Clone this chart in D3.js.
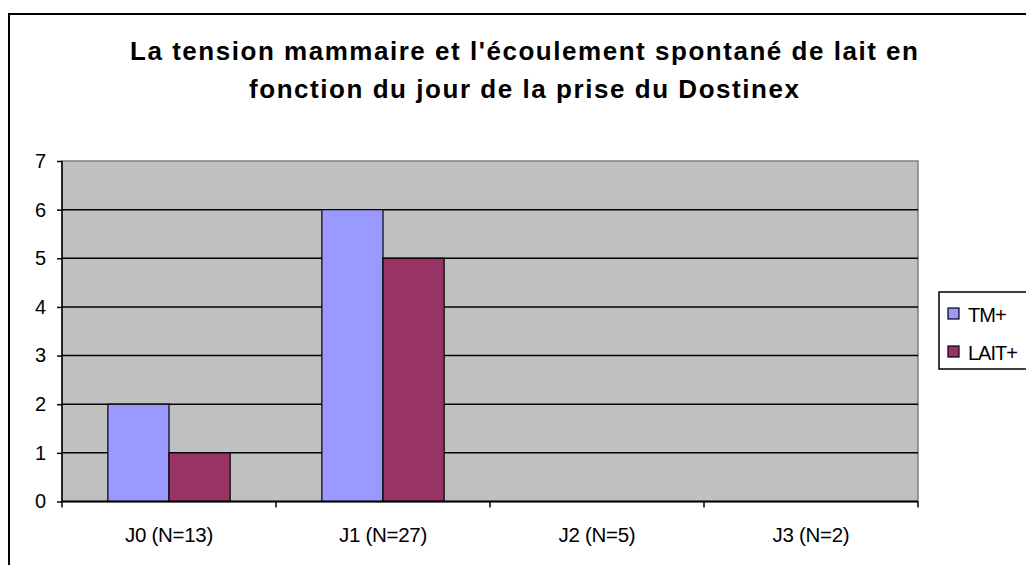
<!DOCTYPE html>
<html>
<head>
<meta charset="utf-8">
<script src="https://cdn.jsdelivr.net/npm/d3@7"></script>
<style>
  body { margin: 0; background: #fff; }
  svg { display: block; font-family: "Liberation Sans", Arial, sans-serif; }
</style>
</head>
<body>
<svg width="1026" height="565"></svg>
<script>
const categories = ["J0 (N=13)", "J1 (N=27)", "J2 (N=5)", "J3 (N=2)"];
const seriesNames = ["TM+", "LAIT+"];
const tmValues = [2, 6, 0, 0];
const laitValues = [1, 5, 0, 0];
const yTicks = [0, 1, 2, 3, 4, 5, 6, 7];
const titleLines = [
    "La tension mammaire et l'écoulement spontané de lait en",
    "fonction du jour de la prise du Dostinex"
];
const titleWidths = [788, 550];
const colors = ["#9999FF", "#993366"];

const svg = d3.select("svg");

// chart frame
svg.append("rect")
    .attr("x", 9).attr("y", 14)
    .attr("width", 1040).attr("height", 600)
    .attr("fill", "#fff")
    .attr("stroke", "#000")
    .attr("stroke-width", 2);

const plot = { left: 62, right: 918, top: 161, bottom: 501.5 };

const x = d3.scaleBand()
    .domain(categories)
    .range([plot.left, plot.right]);

const y = d3.scaleLinear()
    .domain([0, 7])
    .range([plot.bottom, plot.top]);

// bar width following the 150% gap convention
const barW = x.bandwidth() / 3.5;
const xs = d3.scaleBand()
    .domain(seriesNames)
    .range([x.bandwidth() / 2 - barW, x.bandwidth() / 2 + barW]);

svg.append("rect")
    .attr("x", plot.left).attr("y", plot.top)
    .attr("width", plot.right - plot.left)
    .attr("height", plot.bottom - plot.top)
    .attr("fill", "#C0C0C0")
    .attr("stroke", "#808080")
    .attr("stroke-width", 1.5);

// gridlines
svg.append("g")
    .selectAll("line")
    .data(yTicks.filter(d => d > 0 && d < 7))
    .enter().append("line")
    .attr("x1", plot.left).attr("x2", plot.right)
    .attr("y1", d => y(d)).attr("y2", d => y(d))
    .attr("stroke", "#000")
    .attr("stroke-width", 1.5);

// bars
const rows = categories.map((c, i) => ({ cat: c, values: [tmValues[i], laitValues[i]] }));

const group = svg.append("g")
    .selectAll("g")
    .data(rows)
    .enter().append("g")
    .attr("transform", d => `translate(${x(d.cat)},0)`);

group.selectAll("rect")
    .data(d => d.values.map((v, j) => ({ name: seriesNames[j], value: v, color: colors[j] })))
    .enter().append("rect")
    .filter(d => d.value > 0)
    .attr("x", d => xs(d.name))
    .attr("y", d => y(d.value))
    .attr("width", xs.bandwidth())
    .attr("height", d => y(0) - y(d.value))
    .attr("fill", d => d.color)
    .attr("stroke", "#000")
    .attr("stroke-width", 1.2);

// y axis
const yAxis = svg.append("g")
    .attr("transform", `translate(${plot.left},0)`)
    .call(d3.axisLeft(y).tickValues(yTicks).tickSize(5).tickPadding(11).tickFormat(d3.format("d")));
yAxis.select(".domain").attr("stroke", "#000").attr("stroke-width", 1.5).attr("d", `M0,${plot.top}V${plot.bottom}`);
yAxis.selectAll(".tick line").attr("stroke", "#000").attr("stroke-width", 1.5);
yAxis.selectAll(".tick text")
    .attr("font-size", 20)
    .attr("fill", "#000")
    .attr("font-family", "Liberation Sans, Arial, sans-serif");

// x axis
const xAxis = svg.append("g")
    .attr("transform", `translate(0,${plot.bottom})`)
    .call(d3.axisBottom(x).tickSize(0).tickPadding(25.5));
xAxis.select(".domain").attr("stroke", "#000").attr("stroke-width", 2).attr("d", `M${plot.left},0H${plot.right}`);
xAxis.selectAll(".tick text")
    .attr("font-size", 20.5)
    .attr("letter-spacing", -0.3)
    .attr("fill", "#000")
    .attr("font-family", "Liberation Sans, Arial, sans-serif");

// category separators
xAxis.append("g")
    .selectAll("line")
    .data(categories.concat(["end"]))
    .enter().append("line")
    .attr("x1", (d, i) => i < categories.length ? x(d) : plot.right)
    .attr("x2", (d, i) => i < categories.length ? x(d) : plot.right)
    .attr("y1", 0).attr("y2", 6)
    .attr("stroke", "#000")
    .attr("stroke-width", 1.5);

// title
svg.append("g")
    .selectAll("text")
    .data(titleLines)
    .enter().append("text")
    .attr("x", 524)
    .attr("y", (d, i) => 60 + i * 38)
    .attr("text-anchor", "middle")
    .attr("font-size", 26)
    .attr("font-weight", "bold")
    .attr("textLength", (d, i) => titleWidths[i])
    .attr("lengthAdjust", "spacing")
    .attr("fill", "#000")
    .text(d => d);

// legend
const legend = svg.append("g");
legend.append("rect")
    .attr("x", 939).attr("y", 292)
    .attr("width", 100).attr("height", 77)
    .attr("fill", "#fff")
    .attr("stroke", "#000")
    .attr("stroke-width", 1.5);

const item = legend.selectAll("g")
    .data(seriesNames)
    .enter().append("g")
    .attr("transform", (d, i) => `translate(948,${308 + i * 38})`);

item.append("rect")
    .attr("width", 11).attr("height", 11)
    .attr("fill", (d, i) => colors[i])
    .attr("stroke", "#000")
    .attr("stroke-width", 1.2);

item.append("text")
    .attr("x", 20)
    .attr("y", 14)
    .attr("font-size", 20)
    .attr("letter-spacing", -1)
    .attr("fill", "#000")
    .text(d => d);
</script>
</body>
</html>
